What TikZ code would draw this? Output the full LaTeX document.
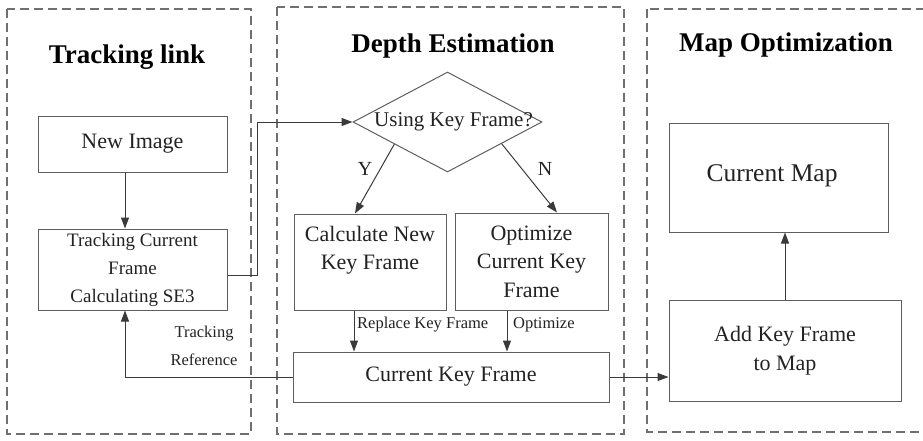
\documentclass[tikz,border=0pt]{standalone}
\usepackage{fontspec}
\setmainfont{Liberation Serif}
\usetikzlibrary{arrows.meta,shapes.geometric,calc}

\definecolor{lineclr}{HTML}{3A3A3A}
\definecolor{boxclr}{HTML}{5E5E5E}
\definecolor{panelclr}{HTML}{707070}
\definecolor{txtclr}{HTML}{222222}

\tikzset{
  panel/.style={draw=panelclr, line width=1.3pt, dash pattern=on 9pt off 5pt},
  paneltitle/.style={font=\fontsize{27}{30}\selectfont\bfseries, text=black},
  stepbox/.style={draw=boxclr, line width=1pt, align=center, inner sep=2pt,
    font=\fontsize{22}{28.5}\selectfont, text=txtclr},
  decision/.style={draw=boxclr, line width=1pt, shape=diamond, inner sep=0pt},
  flow/.style={draw=lineclr, line width=1pt, -{Triangle[length=11pt,width=8pt]}},
  tag/.style={font=\fontsize{16.5}{28}\selectfont, text=txtclr, inner sep=0pt},
  yn/.style={font=\fontsize{20}{24}\selectfont, text=txtclr, inner sep=0pt}
}

\begin{document}
\begin{tikzpicture}[x=1pt, y=-1pt]
\useasboundingbox (0,0) rectangle (923,440);

% three dashed stage panels
\draw[panel] (7,9) rectangle (251,434);
\draw[panel] (277,7) rectangle (624,434);
\draw[panel] (647,9) rectangle (930,432);

\node[paneltitle] (t1) at (127,57) {Tracking link};
\node[paneltitle] (t2) at (453,46) {Depth Estimation};
\node[paneltitle] (t3) at (786,45) {Map Optimization};

% tracking stage
\node[stepbox, minimum width=189pt, minimum height=56pt] (newimg) at (132.5,144) {New Image};
\node[stepbox, minimum width=189pt, minimum height=81pt,
      font=\fontsize{19}{28}\selectfont] (track) at (132.5,269.5)
      {Tracking Current\\Frame\\Calculating SE3};

% depth estimation stage
\node[decision, minimum width=189pt, minimum height=100pt] (dec) at (447.5,122) {};
\node[stepbox, draw=none, inner sep=0pt, font=\fontsize{21}{24}\selectfont] (decq)
      at ([xshift=6pt]dec.center) {Using Key Frame?};
\node[stepbox, minimum width=152pt, minimum height=96pt] (calc) at (370,262)
      {Calculate New\\Key Frame\\\mbox{}};
\node[stepbox, minimum width=153pt, minimum height=97pt] (opt) at (531.5,261.5)
      {Optimize\\Current Key\\Frame};
\node[stepbox, minimum width=316pt, minimum height=50pt] (ckf) at (451,377) {Current Key Frame};

% map optimization stage
\node[stepbox, minimum width=219pt, minimum height=109pt] (map) at (778.5,177.5) {};
\node[stepbox, draw=none, inner sep=0pt, font=\fontsize{25.5}{28}\selectfont] (maptxt)
      at (772,176) {Current Map};
\node[stepbox, minimum width=232pt, minimum height=101pt] (add) at (785,350.5)
      {Add Key Frame\\to Map};

% connectors
\draw[flow] ([xshift=-7.5pt]newimg.south) -- ([xshift=-7.5pt]track.north);
\draw[flow] ([yshift=-5.5pt]track.east) -- ++(30,0) |- (dec.west);

\draw[flow] ($(dec.west)!0.44!(dec.south)$) -- ([xshift=-15pt]calc.north);
\draw[flow] ($(dec.east)!0.43!(dec.south)$) -- ([xshift=25.5pt]opt.north);
\node[yn] (ylab) at (365,169) {Y};
\node[yn] (nlab) at (545,169) {N};

\draw[flow] ([xshift=-16pt]calc.south) -- ([xshift=-16pt]calc.south |- ckf.north);
\draw[flow] ([xshift=-24.5pt]opt.south) -- ([xshift=-24.5pt]opt.south |- ckf.north);
\node[tag, anchor=west] (rkf) at (357,325) {Replace Key Frame};
\node[tag, anchor=west] (olab) at (513,325) {Optimize};

\draw[flow] (ckf.west) -| ([xshift=-7.5pt]track.south);
\node[tag, align=center] (tref) at (204,346) {Tracking\\Reference};

\draw[flow] (ckf.east) -- (ckf.east -| add.west);
\draw[flow] (add.north) -- (add.north |- map.south);
\end{tikzpicture}
\end{document}
